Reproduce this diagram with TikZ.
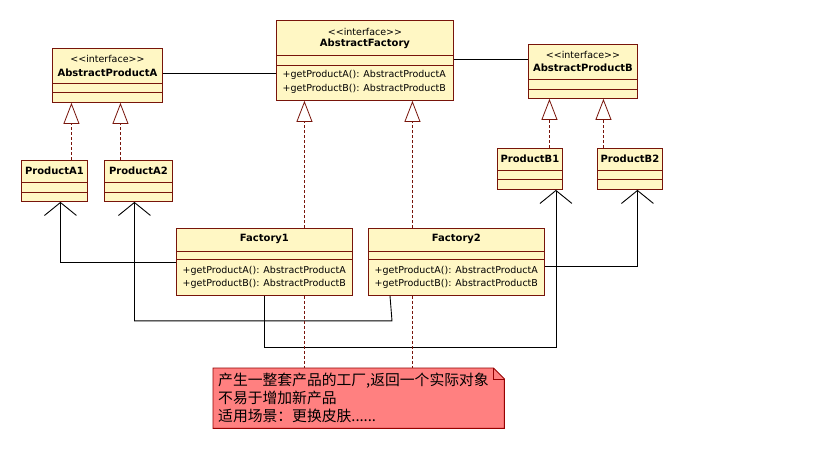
\documentclass[tikz,border=0pt]{standalone}
\usepackage{fontspec}
\setmainfont{DejaVu Sans}
\newfontfamily\cjk{Noto Sans CJK SC}
\usetikzlibrary{arrows.meta,positioning}

\definecolor{boxfill}{RGB}{255,247,196}
\definecolor{boxline}{RGB}{120,20,10}
\definecolor{notefill}{RGB}{255,128,128}
\definecolor{noteedge}{RGB}{150,0,0}

\tikzset{
  classbox/.style={draw=boxline, fill=boxfill, line width=0.9pt, inner sep=0pt, anchor=north west},
  stereo/.style={font=\fontsize{9.5}{11}\selectfont, inner sep=0pt},
  cname/.style={font=\fontsize{10}{12}\selectfont\bfseries, inner sep=0pt},
  method/.style={font=\fontsize{9.5}{11}\selectfont, inner sep=0pt, anchor=west},
  realize/.style={draw=boxline, line width=0.8pt, dash pattern=on 3pt off 2pt,
    -{Triangle[length=21pt, width=16pt, fill=white]}},
  notelink/.style={draw=boxline, line width=0.8pt, dash pattern=on 3pt off 2pt},
  assoc/.style={draw=black, line width=0.9pt},
  depend/.style={draw=black, line width=0.9pt, -{Straight Barb[length=13pt, width=32pt]}},
  notetext/.style={font=\cjk\fontsize{14.8}{17}\selectfont, inner sep=0pt, anchor=west},
}

\begin{document}
\begin{tikzpicture}[x=1pt, y=-1pt]
\useasboundingbox (0,0) rectangle (819,460);
\fill[white] (0,0) rectangle (819,460);

%interfaces
    \node[classbox, minimum width=110pt, minimum height=54pt] (absA) at (52,48) {};
    \node[classbox, minimum width=177pt, minimum height=80pt] (absF) at (276,20) {};
    \node[classbox, minimum width=109pt, minimum height=54pt] (absB) at (528,44) {};
%products
    \node[classbox, minimum width=66pt, minimum height=41pt] (pA1) at (21,160) {};
    \node[classbox, minimum width=68pt, minimum height=41pt] (pA2) at (104,160) {};
    \node[classbox, minimum width=65pt, minimum height=41pt] (pB1) at (497,148) {};
    \node[classbox, minimum width=65pt, minimum height=41pt] (pB2) at (597,148) {};
%factories
    \node[classbox, minimum width=176pt, minimum height=67pt] (f1) at (176,228) {};
    \node[classbox, minimum width=176pt, minimum height=67pt] (f2) at (368,228) {};

%compartment lines
    \foreach \n/\a/\b in {absA/35/44, absF/35/45, absB/35/45, pA1/22/32, pA2/22/32,
                          pB1/22/31, pB2/22/31, f1/23/31, f2/23/31}
    {
    \draw[boxline, line width=0.9pt] ([yshift=-\a pt]\n.north west) -- ([yshift=-\a pt]\n.north east);
    \draw[boxline, line width=0.9pt] ([yshift=-\b pt]\n.north west) -- ([yshift=-\b pt]\n.north east);
    }

%class names
    \foreach \n/\d in {absA/11, absF/12, absB/11}
    \node[stereo] (\n-st) at ([yshift=-\d pt]\n.north) {<{}<interface>{}>};
    \node[cname] (absA-name) at ([yshift=-25pt]absA.north) {AbstractProductA};
    \node[cname] (absF-name) at ([yshift=-24pt]absF.north) {AbstractFactory};
    \node[cname] (absB-name) at ([yshift=-24pt]absB.north) {AbstractProductB};
    \node[cname] (pA1-name) at ([yshift=-11pt]pA1.north) {ProductA1};
    \node[cname] (pA2-name) at ([yshift=-11pt]pA2.north) {ProductA2};
    \node[cname] (pB1-name) at ([yshift=-11pt]pB1.north) {ProductB1};
    \node[cname] (pB2-name) at ([yshift=-11pt]pB2.north) {ProductB2};
    \node[cname] (f1-name) at ([yshift=-11pt]f1.north) {Factory1};
    \node[cname] (f2-name) at ([yshift=-11pt]f2.north) {Factory2};

%methods
    \foreach \n/\a/\b in {absF/55/69, f1/43/56, f2/43/56}
    {
    \node[method] (\n-m1) at ([xshift=6.5pt, yshift=-\a pt]\n.north west) {+getProductA(): AbstractProductA};
    \node[method] (\n-m2) at ([xshift=6.5pt, yshift=-\b pt]\n.north west) {+getProductB(): AbstractProductB};
    }

%associations
    \draw[assoc] ([yshift=2pt]absA.east) -- ([yshift=2pt]absA.east -| absF.west);
    \draw[assoc] ([yshift=-15pt]absB.north west -| absF.east) -- ([yshift=-15pt]absB.north west);

%realizations
    \draw[realize] ([xshift=17pt]pA1.north) -- ([xshift=17pt]pA1.north |- absA.south);
    \draw[realize] ([xshift=-18pt]pA2.north) -- ([xshift=-18pt]pA2.north |- absA.south);
    \draw[realize] ([xshift=19.5pt]pB1.north) -- ([xshift=19.5pt]pB1.north |- absB.south);
    \draw[realize] ([xshift=-26.5pt]pB2.north) -- ([xshift=-26.5pt]pB2.north |- absB.south);
    \draw[realize] ([xshift=40pt]f1.north) -- ([xshift=40pt]f1.north |- absF.south);
    \draw[realize] ([xshift=-44pt]f2.north) -- ([xshift=-44pt]f2.north |- absF.south);

%dependencies
    \draw[depend] (f1.west) -| ([xshift=6pt]pA1.south);
    \draw[depend] ([xshift=22pt]f2.south west) -- ++(2,25) -| ([xshift=-4pt]pA2.south);
    \draw[depend] ([xshift=88pt]f1.south west) -- ++(0,52) -| ([xshift=26pt]pB1.south);
    \draw[depend] ([yshift=-4.5pt]f2.east) -| ([xshift=7.5pt]pB2.south);

%note
    \node[inner sep=0pt, minimum width=291pt, minimum height=60pt, anchor=north west] (note) at (213,368) {};
    \filldraw[fill=notefill, draw=noteedge, line width=0.9pt] (note.south west) -- (note.north west)
      -- ([xshift=-11pt]note.north east) -- ([yshift=-11pt]note.north east) -- (note.south east) -- cycle;
    \draw[noteedge, line width=0.8pt] ([xshift=-11pt]note.north east) -- ([xshift=-11pt, yshift=-11pt]note.north east)
      -- ([yshift=-11pt]note.north east);
    \node[notetext] (n1) at ([xshift=5pt, yshift=-13pt]note.north west) {产生一整套产品的工厂,返回一个实际对象};
    \node[notetext] (n2) at ([xshift=5pt, yshift=-30pt]note.north west) {不易于增加新产品};
    \node[notetext] (n3) at ([xshift=5pt, yshift=-48pt]note.north west) {适用场景：更换皮肤......};
    \draw[notelink] ([xshift=40pt]f1.south) -- ([xshift=40pt]f1.south |- note.north);
    \draw[notelink] ([xshift=-44pt]f2.south) -- ([xshift=-44pt]f2.south |- note.north);

\end{tikzpicture}
\end{document}
